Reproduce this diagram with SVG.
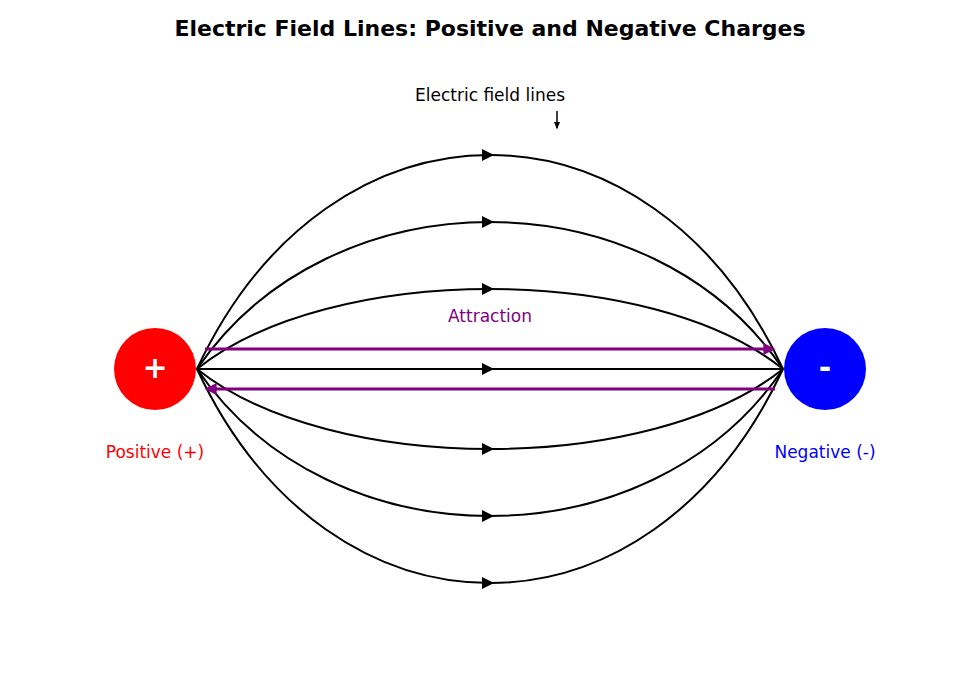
<svg xmlns="http://www.w3.org/2000/svg" width="980" height="700" viewBox="0 0 980 700">
<style>
text{font-family:"DejaVu Sans",sans-serif}
.fl{fill:none;stroke:#000;stroke-width:2}
.ah{fill:#000}
.pa{stroke:#800080;stroke-width:3;fill:none}
</style>
<defs>
<marker id="pm" viewBox="0 0 10 10" refX="8" refY="5" markerWidth="4" markerHeight="4" orient="auto"><path d="M0,0L10,5L0,10z" fill="#800080"/></marker>
<marker id="bm" viewBox="0 0 10 10" refX="8" refY="5" markerWidth="5" markerHeight="5" orient="auto"><path d="M0,1L10,5L0,9z" fill="#000"/></marker>
</defs>
<rect width="980" height="700" fill="#fff"/>
<text x="490" y="36" font-size="22" font-weight="bold" text-anchor="middle">Electric Field Lines: Positive and Negative Charges</text>
<g id="connectors">
<path class="fl" d="M197,369C330,83.7 650,83.7 783,369"/>
<path class="fl" d="M197,369C330,173 650,173 783,369"/>
<path class="fl" d="M197,369C330,262.3 650,262.3 783,369"/>
<path class="fl" d="M197,369L783,369"/>
<path class="fl" d="M197,369C330,475.7 650,475.7 783,369"/>
<path class="fl" d="M197,369C330,565 650,565 783,369"/>
<path class="fl" d="M197,369C330,654.3 650,654.3 783,369"/>
<g class="ah">
<path d="M482,149L494,155L482,161z"/>
<path d="M482,216L494,222L482,228z"/>
<path d="M482,283L494,289L482,295z"/>
<path d="M482,363L494,369L482,375z"/>
<path d="M482,443L494,449L482,455z"/>
<path d="M482,510L494,516L482,522z"/>
<path d="M482,577L494,583L482,589z"/>
</g>
<path class="pa" d="M205,349L773,349" marker-end="url(#pm)"/>
<path class="pa" d="M775,389L207,389" marker-end="url(#pm)"/>
<path d="M557,111L557,128" stroke="#000" stroke-width="1.5" marker-end="url(#bm)"/>
</g>
<g id="positive">
<circle cx="155" cy="369" r="41" fill="#ff0000"/>
<text x="155" y="378" font-size="30" font-weight="bold" fill="#fff" text-anchor="middle">+</text>
<text x="155" y="458" font-size="17" fill="#ff0000" text-anchor="middle">Positive (+)</text>
</g>
<g id="negative">
<circle cx="825" cy="369" r="41" fill="#0000ff"/>
<text x="825" y="378" font-size="30" font-weight="bold" fill="#fff" text-anchor="middle">-</text>
<text x="825" y="458" font-size="17" fill="#0000ff" text-anchor="middle">Negative (-)</text>
</g>
<text x="490" y="322" font-size="17" fill="#800080" text-anchor="middle">Attraction</text>
<text x="490" y="101" font-size="17" text-anchor="middle">Electric field lines</text>
</svg>
